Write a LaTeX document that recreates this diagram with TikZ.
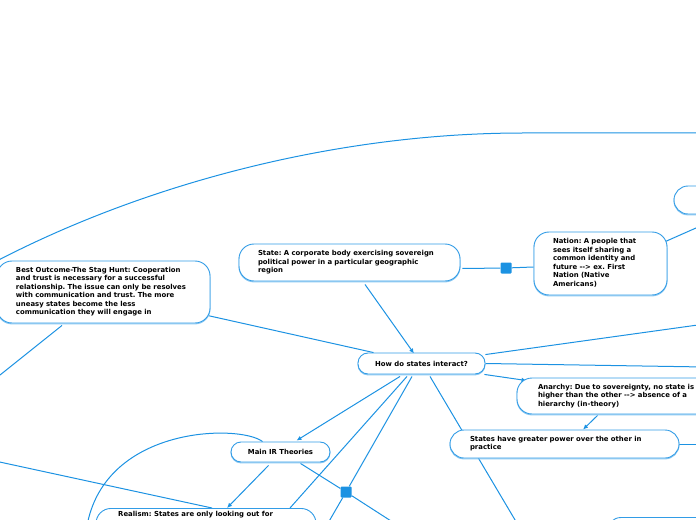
\documentclass[tikz,border=0pt]{standalone}
\usepackage{fontspec}
\setmainfont{DejaVu Sans}
\usetikzlibrary{calc,arrows.meta}
\pgfdeclarelayer{background}
\pgfsetlayers{background,main}
\definecolor{lnblue}{RGB}{28,146,226}
\definecolor{bxblue}{RGB}{50,156,230}
\definecolor{shblue}{RGB}{140,200,242}
\newcommand\mmlines[1]{\begin{tabular}{@{}l@{}}#1\end{tabular}}
\frenchspacing
\begin{document}
\begin{tikzpicture}[x=1bp,y=-1bp,
  mmbox/.style={draw=bxblue, line width=0.9bp, fill=white,
    font=\fontsize{6.9bp}{8.5bp}\selectfont\bfseries\frenchspacing, align=left,
    inner ysep=0pt,
    preaction={draw=shblue, line width=1bp, transform canvas={yshift=-0.9bp}}},
  conn/.style={draw=lnblue, line width=1bp},
  arr/.style={conn, -{Latex[length=5bp,width=4.5bp]}},
  sqr/.style={fill=lnblue, minimum size=11bp, inner sep=0pt, rounded corners=1bp}]
\useasboundingbox (0,0) rectangle (696,520);
\clip (0,0) rectangle (696,520);

% nodes
\node[mmbox, rounded corners=15bp, text width=175bp, inner xsep=19bp, minimum height=62bp] (Best) at (103.5,292)
 {\mmlines{Best Outcome-The Stag Hunt: Cooperation\\and trust is necessary for a successful\\relationship. The issue can only be resolves\\with communication and trust. The more\\uneasy states become the less\\communication they will engage in}};
\node[mmbox, rounded corners=15bp, text width=183bp, inner xsep=19bp, minimum height=37bp] (State) at (349.5,262.5)
 {\mmlines{State: A corporate body exercising sovereign\\political power in a particular geographic\\region}};
\node[mmbox, rounded corners=15bp, text width=95bp, inner xsep=19bp, minimum height=63bp] (Nation) at (600.5,263.5)
 {\mmlines{Nation: A people that\\sees itself sharing a\\common identity and\\future -{}-{}> ex. First\\Nation (Native\\Americans)}};
\node[mmbox, rounded corners=10bp, align=center, minimum width=127bp, minimum height=21bp, inner xsep=0pt] (How) at (421.5,363.5)
 {How do states interact?};
\node[mmbox, rounded corners=15bp, text width=158bp, inner xsep=21bp, minimum height=36bp] (Anarchy) at (617,396)
 {\mmlines{Anarchy: Due to sovereignty, no state is\\higher than the other -{}-{}> absence of a\\hierarchy (in-theory)}};
\node[mmbox, rounded corners=14bp, text width=189bp, inner xsep=20bp, minimum height=28bp] (States) at (564.5,444)
 {\mmlines{States have greater power over the other in\\practice}};
\node[mmbox, rounded corners=10bp, align=center, minimum width=99bp, minimum height=20bp, inner xsep=0pt] (Main) at (280.5,452)
 {Main IR Theories};
\node[mmbox, rounded corners=15bp, anchor=north, minimum width=220bp, minimum height=30bp] (Realism) at (206,508) {};
\node[font=\fontsize{6.9bp}{8.5bp}\selectfont\bfseries, anchor=base west, inner sep=0pt] (RealismText) at (118,516.5)
 {Realism: States are only looking out for};
\node[mmbox, rounded corners=14bp, minimum width=122bp, minimum height=28bp] (TR) at (735,200) {};
\node[mmbox, rounded corners=14bp, minimum width=110bp, minimum height=45bp] (BR) at (662,540) {};
\node[sqr] (sq1) at (506,268) {};
\node[sqr] (sq2) at (346,492) {};

% free ends
\coordinate (offA) at (705,133);
\coordinate (offB) at (-10,383);
\coordinate (offC) at (705,224);
\coordinate (offD) at (705,324);
\coordinate (offE) at (705,367);
\coordinate (offF) at (324,530);
\coordinate (offG) at (405,530);
\coordinate (offH) at (86,532);
\coordinate (offI) at (-5,461);
\coordinate (offJ) at (521,530);
\coordinate (offK) at (705,444);

\begin{pgfonlayer}{background}
\clip (0,0) rectangle (696,520);
\draw[conn] ($(Best.north west)+(3,-1)$) .. controls (150,182) and (340,133) .. (523,133) -- (offA);
\draw[conn] ($(Best.south)+(-41.5,2)$) -- (offB);
\draw[conn] ($(Best.east)+(-5,23)$) -- ($(How.north)+(-48,0)$);
\draw[conn] ($(State.east)+(2,6)$) -- (sq1) -- ($(Nation.west)+(0,3.5)$);
\draw[conn] ($(Nation.east)+(-2,-22)$) -- (offC);
\draw[arr] ($(State.south)+(15.5,3)$) -- ($(How.north)+(-7.5,1)$);
\draw[conn] ($(How.north east)+(0,2)$) -- (offD);
\draw[conn] (How.east) -- (offE);
\draw[arr] ($(How.south east)+(-1,0)$) -- ($(Anarchy.north west)+(10,3)$);
\draw[arr] ($(How.south)+(-21.5,2)$) -- ($(Main.north)+(16,-1)$);
\draw[conn] ($(How.south)+(-14.5,2)$) -- ($(Realism.north)+(84,0)$);
\draw[conn] ($(How.south)+(-9.5,2)$) -- (sq2) -- (offF);
\draw[conn] ($(Main.south)+(20,1)$) -- (sq2) -- (offG);
\draw[arr] ($(Main.south)+(-12,3)$) -- ($(Realism.north)+(21,0)$);
\draw[conn] ($(Main.north)+(-18,0)$) .. controls (240,424) and (100,425) .. (offH);
\draw[conn] (offI) -- ($(Realism.north)+(6,0)$);
\draw[conn] ($(How.south)+(8.5,2)$) -- (offJ);
\draw[arr] ($(Anarchy.south west)+(81,1)$) -- ($(States.north)+(18.5,0)$);
\draw[conn] (States.east) -- (offK);
\end{pgfonlayer}
\end{tikzpicture}
\end{document}
